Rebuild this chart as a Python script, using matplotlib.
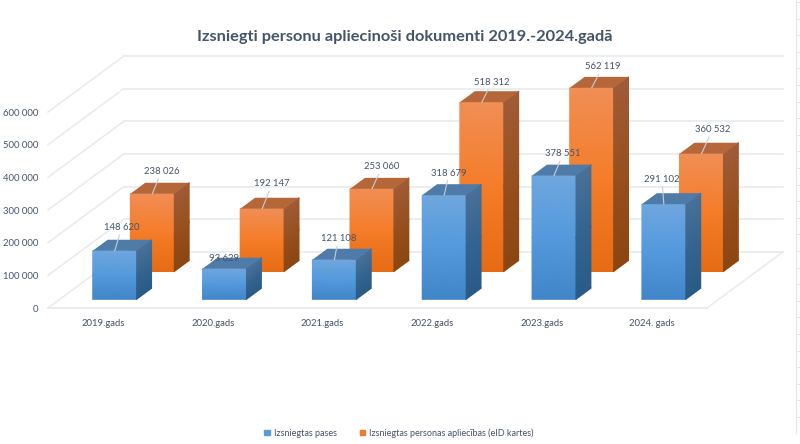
import matplotlib
matplotlib.use('Agg')
import matplotlib.pyplot as plt
import numpy as np
from matplotlib.colors import LinearSegmentedColormap
from matplotlib.lines import Line2D
from matplotlib.patches import Patch

plt.rcParams['font.family'] = ['Lato', 'DejaVu Sans']

years = ['2019.gads', '2020.gads', '2021.gads', '2022.gads', '2023.gads', '2024. gads']
pases = [148620, 93629, 121108, 318679, 378551, 291102]
eid = [238026, 192147, 253060, 518312, 562119, 360532]
y_ticks = [0, 100000, 200000, 300000, 400000, 500000, 600000]

name_pases = 'Izsniegtas pases'
name_eid = 'Izsniegtas personas apliecības (eID kartes)'
title = 'Izsniegti personu apliecinoši dokumenti 2019.-2024.gadā'

# label offsets from the bar's front top edge, in pixels (x right, y up)
nudge_pases = [(7, 23), (0, 10), (4, 21), (5, 22), (9, 22), (-2, 25)]
nudge_eid = [(9, 22), (10, 25), (10, 22), (10, 20), (11, 21), (11, 24)]

TEXT = '#44546A'
GRID = '#E9EAED'

# fake 3D: going back by depth d moves right and up by these amounts
DEPTH_X = 0.692
DEPTH_Y = 171800
BAR_X = 0.30
BAR_W = 0.40
BAR_D = 0.196


def fmt(v):
    return f'{v:,}'.replace(',', ' ')


def back(x, y, d):
    return x + DEPTH_X * d, y + DEPTH_Y * d


def shade(ax, quad, colors, z):
    # quad = bottom left, bottom right, top right, top left
    cmap = LinearSegmentedColormap.from_list('g', colors)
    n = len(colors)
    t = np.linspace(0, 1, n)
    bl, br, tr, tl = [np.array(p, dtype=float) for p in quad]
    X = np.array([[(bl + (tl - bl) * k)[0], (br + (tr - br) * k)[0]] for k in t])
    Y = np.array([[(bl + (tl - bl) * k)[1], (br + (tr - br) * k)[1]] for k in t])
    C = np.array([[k, k] for k in t])
    ax.pcolormesh(X, Y, C, shading='gouraud', cmap=cmap, vmin=0, vmax=1, clip_on=False, zorder=z)


def draw_bars(ax, values, depth, front, side, top, z):
    for i, v in enumerate(values):
        x0 = i + BAR_X
        x1 = x0 + BAR_W
        a = back(x0, 0, depth)
        b = back(x1, 0, depth)
        c = back(x1, v, depth)
        d = back(x0, v, depth)
        b2 = back(x1, 0, depth + BAR_D)
        c2 = back(x1, v, depth + BAR_D)
        d2 = back(x0, v, depth + BAR_D)
        shade(ax, [a, b, c, d], front, z)
        shade(ax, [b, b2, c2, c], side, z)
        ax.fill(*zip(d, c, c2, d2), color=top, lw=0, clip_on=False, zorder=z)


def draw_labels(ax, values, depth, nudge):
    for i, v in enumerate(values):
        x = i + BAR_X + BAR_W / 2
        px, py = back(x, v, depth)
        dx, dy = nudge[i]
        # the short 2020 blue label has no leader line
        style = dict(arrowstyle='-', color='#C9CED6', lw=0.8, shrinkA=0, shrinkB=0) if dy > 15 else None
        ax.annotate(fmt(v), (px, py), xytext=(dx, dy), textcoords='offset pixels',
                    ha='center', va='center', fontsize=6.8, color=TEXT, zorder=10,
                    arrowprops=style, annotation_clip=False)


fig = plt.figure(figsize=(8, 4.44), dpi=100)
ax = fig.add_axes([48 / 800, 1 - 308 / 444, 659 / 800, 196 / 444])

# walls and floor
for t in y_ticks:
    bx, by = back(0, t, 1)
    ax.plot([0, bx], [t, by], color=GRID, lw=1.1, clip_on=False, zorder=1)
    ax.plot([bx, back(6, t, 1)[0]], [by, by], color=GRID, lw=1.2, clip_on=False, zorder=1)
ax.plot([0, 6], [0, 0], color=GRID, lw=1.3, clip_on=False, zorder=1)
ax.plot(*zip((6, 0), back(6, 0, 1)), color=GRID, lw=1.1, clip_on=False, zorder=1)

draw_bars(ax, eid, 0.65,
          ['#E56B14', '#F57C28', '#F08E55'],
          ['#8C4610', '#97501E', '#A05C38'],
          '#B5673A', 3)
draw_bars(ax, pases, 0.155,
          ['#3F85C8', '#5399DC', '#6FA6DE'],
          ['#2A5A86', '#34648F', '#4A7198'],
          '#4F7BA9', 5)
draw_labels(ax, eid, 0.65, nudge_eid)
draw_labels(ax, pases, 0.155, nudge_pases)

ax.set_xlim(0, 6)
ax.set_ylim(0, 600000)
ax.set_xticks(np.arange(6) + 0.5, years)
ax.set_yticks(y_ticks, [fmt(t) for t in y_ticks])
ax.tick_params(length=0, labelsize=6.8, labelcolor=TEXT)
ax.tick_params(axis='x', pad=8)
ax.tick_params(axis='y', pad=7)
ax.patch.set_alpha(0)
for s in ax.spines.values():
    s.set_visible(False)

fig.text(405 / 800, 1 - 37 / 444, title, ha='center', va='center',
         fontsize=11.8, fontweight='bold', color=TEXT)

handles = [Patch(color='#5B9BD5', label=name_pases), Patch(color='#ED7D31', label=name_eid)]
fig.legend(handles=handles, loc='center', bbox_to_anchor=(399 / 800, 1 - 433 / 444), ncol=2,
           frameon=False, fontsize=6.5, labelcolor=TEXT, handlelength=0.6, handleheight=0.6,
           handletextpad=0.4, columnspacing=2.6)

# strip of spreadsheet row headers at the right edge of the screenshot
fig.add_artist(Line2D([796 / 800, 796 / 800], [1 - 433 / 444, 1], color='#E2E5EA', lw=0.8))
for py in np.arange(2, 433, 16.6):
    fig.add_artist(Line2D([796 / 800, 1], [1 - py / 444, 1 - py / 444], color='#E2E5EA', lw=0.7))

fig.savefig('out.png', dpi=100)
